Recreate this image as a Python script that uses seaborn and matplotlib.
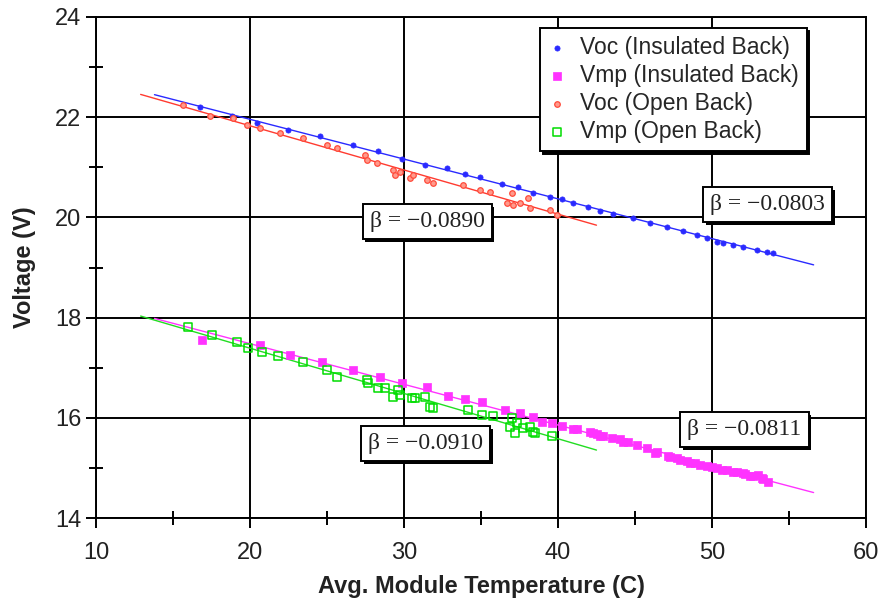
import numpy as np
import pandas as pd
import matplotlib
matplotlib.use("Agg")
import matplotlib.pyplot as plt
import matplotlib.patheffects as pe
from matplotlib.ticker import MultipleLocator
import seaborn as sns

# Voc, dos isolé (bleu)
voc_ins_t = [16.75, 18.83, 20.45, 22.47, 24.55, 26.69, 28.31, 29.87, 31.36, 32.79, 33.96, 34.94,
             36.36, 37.40, 38.38, 39.48, 40.26, 40.97, 41.95, 42.73, 43.57, 44.87, 45.97, 47.08,
             48.12, 49.03, 49.68, 50.32, 50.71, 51.36, 52.01, 52.92, 53.57, 53.96]
voc_ins_v = [22.20, 22.02, 21.88, 21.74, 21.62, 21.44, 21.33, 21.17, 21.05, 20.99, 20.87, 20.81,
             20.67, 20.61, 20.49, 20.41, 20.37, 20.29, 20.21, 20.13, 20.07, 19.99, 19.89, 19.81,
             19.73, 19.65, 19.59, 19.51, 19.49, 19.45, 19.41, 19.35, 19.31, 19.29]

# Vmp, dos isolé (magenta)
vmp_ins_t = [16.88, 20.65, 22.60, 24.68, 26.69, 28.44, 29.87, 31.49, 32.86, 33.96, 35.06, 36.56,
             37.53, 38.38, 38.96, 39.61, 40.26, 40.97, 41.23, 42.27, 42.73, 43.51, 44.22, 45.13,
             45.78, 46.43, 47.27, 47.92, 48.57, 49.22, 50.00, 50.65, 51.36, 52.01, 52.47, 52.99,
             53.31, 53.64,
             42.08, 42.53, 42.92, 44.03, 44.55, 46.30, 47.14, 47.73, 48.38, 48.90, 49.68, 50.32,
             50.97, 51.62, 52.14, 52.66, 53.23]
vmp_ins_v = [17.55, 17.45, 17.25, 17.11, 16.95, 16.81, 16.69, 16.61, 16.44, 16.38, 16.32, 16.16,
             16.10, 16.02, 15.92, 15.90, 15.84, 15.78, 15.78, 15.70, 15.64, 15.60, 15.52, 15.46,
             15.40, 15.32, 15.22, 15.16, 15.10, 15.06, 15.02, 14.96, 14.92, 14.90, 14.84, 14.86,
             14.78, 14.72,
             15.72, 15.68, 15.64, 15.58, 15.52, 15.30, 15.24, 15.20, 15.14, 15.10, 15.04, 15.00,
             14.96, 14.92, 14.88, 14.84, 14.80]

# Voc, dos ouvert (rouge)
voc_open_t = [15.65, 17.40, 18.90, 19.81, 20.65, 21.95, 23.44, 25.00, 25.65, 27.47, 27.60, 28.25,
              29.29, 29.42, 29.74, 30.39, 30.58, 31.49, 31.88, 33.83, 34.94, 35.58, 36.69, 37.01,
              37.08, 37.53, 38.05, 38.18, 39.48, 39.94]
voc_open_v = [22.24, 22.02, 21.98, 21.84, 21.78, 21.68, 21.58, 21.44, 21.39, 21.25, 21.15, 21.09,
              20.95, 20.85, 20.91, 20.79, 20.85, 20.75, 20.69, 20.65, 20.55, 20.51, 20.29, 20.49,
              20.25, 20.29, 20.39, 20.19, 20.15, 20.05]

# Vmp, dos ouvert (vert)
vmp_open_t = [15.97, 17.53, 19.16, 19.87, 20.78, 21.82, 23.44, 25.00, 25.65, 27.60, 27.66, 28.31,
              28.77, 29.29, 29.61, 29.74, 30.52, 30.71, 31.36, 31.69, 31.88, 34.16, 35.06, 35.78,
              36.88, 37.01, 37.34, 37.21, 37.73, 38.18, 38.38, 38.51, 39.61]
vmp_open_v = [17.81, 17.65, 17.51, 17.39, 17.31, 17.23, 17.11, 16.95, 16.81, 16.75, 16.69, 16.59,
              16.59, 16.42, 16.56, 16.46, 16.40, 16.40, 16.42, 16.22, 16.20, 16.16, 16.06, 16.04,
              15.82, 16.00, 15.90, 15.70, 15.80, 15.82, 15.72, 15.70, 15.64]

# étendue des droites de régression
fit_range_ins = [13.8, 56.6]
fit_range_open = [12.9, 42.5]

beta_labels = ["β = −0.0803", "β = −0.0811", "β = −0.0890", "β = −0.0910"]
beta_pos_t = [53.6, 52.1, 31.5, 31.4]
beta_pos_v = [20.25, 15.76, 19.92, 15.48]

sns.set_style("white")
plt.rcParams['font.family'] = ['Liberation Sans', 'DejaVu Sans']

fig = plt.figure(figsize=(8.83, 6.07), dpi=100)
ax = fig.add_axes([0.1087, 0.1466, 0.872, 0.8254])

series = [
    ("Voc (Insulated Back)", voc_ins_t, voc_ins_v, fit_range_ins, "#2a2aff",
     dict(marker="o", s=14, color="#2a2aff", edgecolor="#2a2aff", linewidth=0.5)),
    ("Vmp (Insulated Back)", vmp_ins_t, vmp_ins_v, fit_range_ins, "#ff33ff",
     dict(marker="s", s=40, color="#ff33ff", edgecolor="#ff33ff", linewidth=0.5)),
    ("Voc (Open Back)", voc_open_t, voc_open_v, fit_range_open, "#ff3b30",
     dict(marker="o", s=16, color="#ff9a8c", edgecolor="#ff4a3a", linewidth=0.9)),
    ("Vmp (Open Back)", vmp_open_t, vmp_open_v, fit_range_open, "#22dd22",
     dict(marker="s", s=34, facecolor="none", edgecolor="#00dd00", linewidth=1.1)),
]

for label, t, v, rng, lc, style in series:
    df = pd.DataFrame({"T": t, "V": v})
    sns.scatterplot(data=df, x="T", y="V", ax=ax, label=label, zorder=3, **style)
    slope, inter = np.polyfit(df["T"], df["V"], 1)
    xx = np.array(rng)
    ax.plot(xx, inter + slope * xx, color=lc, lw=1.0, zorder=2)

ax.set_xlim(10, 60)
ax.set_ylim(14, 24)
ax.xaxis.set_major_locator(MultipleLocator(10))
ax.xaxis.set_minor_locator(MultipleLocator(5))
ax.yaxis.set_major_locator(MultipleLocator(2))
ax.yaxis.set_minor_locator(MultipleLocator(1))
ax.grid(True, which="major", color="black", lw=1.4)
ax.set_axisbelow(True)
for s in ax.spines.values():
    s.set_color("black")
    s.set_linewidth(1.4)
ax.tick_params(which="major", direction="out", length=7, width=1.4, color="black",
               labelsize=17, labelcolor="#222222", bottom=True, left=True)
ax.tick_params(which="minor", direction="inout", length=10, width=1.4, color="black",
               bottom=True, left=True)
ax.tick_params(axis="x", which="major", pad=10)

ax.set_xlabel("Avg. Module Temperature (C)", fontsize=17, fontweight="bold", color="#222222", labelpad=8)
ax.set_ylabel("Voltage (V)", fontsize=17, fontweight="bold", color="#222222", labelpad=14)

leg = ax.legend(loc="upper right", bbox_to_anchor=(0.923, 0.978), borderaxespad=0,
                fontsize=16.5, frameon=True, fancybox=False,
                shadow={"color": "black", "alpha": 1.0},
                handlelength=0.8, handletextpad=0.6, borderpad=0.35, labelspacing=0.22)
leg.get_frame().set_edgecolor("black")
leg.get_frame().set_linewidth(1.4)
leg.get_frame().set_alpha(1)

for lab, bt, bv in zip(beta_labels, beta_pos_t, beta_pos_v):
    txt = ax.text(bt, bv, lab, ha="center", va="center", fontsize=17,
                  family=["Liberation Serif", "DejaVu Serif"], color="#222222", zorder=5,
                  bbox=dict(boxstyle="square,pad=0.3", facecolor="white", edgecolor="black", lw=1.4))
    txt.get_bbox_patch().set_path_effects([
        pe.SimplePatchShadow(offset=(2, -2), shadow_rgbFace="black", alpha=1.0),
        pe.Normal()])

fig.savefig("out.png", dpi=100)
